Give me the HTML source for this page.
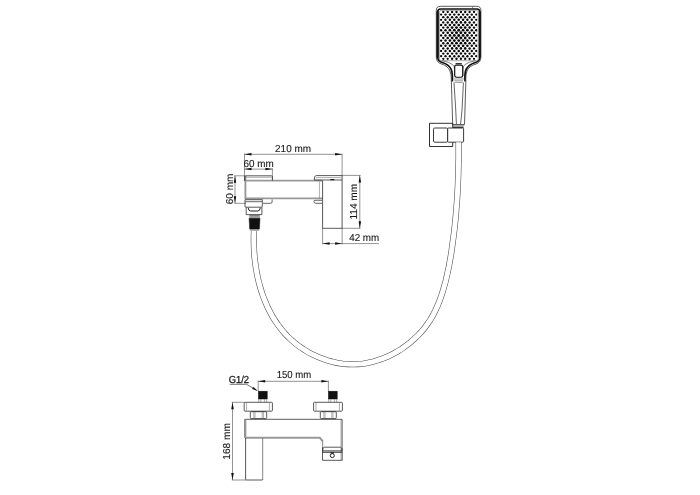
<!DOCTYPE html>
<html lang="en">
<head>
<meta charset="utf-8">
<title>Bath mixer with hand shower - dimensions</title>
<style>
html,body{margin:0;padding:0;background:#fff;}
body{width:700px;height:495px;overflow:hidden;}
svg{display:block;filter:grayscale(1);}
text{text-rendering:geometricPrecision;font-family:"Liberation Sans",Arial,Helvetica,sans-serif;fill:#1a1a1a;stroke:#1a1a1a;stroke-width:.12;}
.l{fill:none;stroke:#222;stroke-width:.75;stroke-linejoin:round;}
.t{fill:none;stroke:#333;stroke-width:.5;}
.g{fill:none;stroke:#777;stroke-width:.6;}
.g3{fill:none;stroke:#4a4a4a;stroke-width:.85;}
.g2{fill:none;stroke:#666;stroke-width:.8;}
.gg{fill:none;stroke:#999;stroke-width:1.9;}
.m2{fill:#fff;stroke:#222;stroke-width:.75;}
.m{fill:#fff;stroke:#111;stroke-width:1.15;}
.t2{fill:none;stroke:#333;stroke-width:.6;}
.h2{fill:none;stroke:#1a1a1a;stroke-width:.9;stroke-linejoin:miter;}
.h3{fill:none;stroke:#333;stroke-width:.8;stroke-linejoin:round;}
.g4{fill:none;stroke:#3a3a3a;stroke-width:1;}
.h{fill:none;stroke:#222;stroke-width:1;stroke-linejoin:round;}
.k{fill:none;stroke:#111;stroke-width:1.7;stroke-linejoin:round;}
.k4{fill:none;stroke:#111;stroke-width:2.2;}
.k2{fill:none;stroke:#111;stroke-width:1.1;}
.k3{fill:#111;stroke:#111;stroke-width:.5;}
text.b{stroke-width:.28;}
.d2{fill:none;stroke:#333;stroke-width:.7;}
.d{fill:none;stroke:#3a3a3a;stroke-width:.55;}
.a{fill:#111;stroke:none;}
</style>
</head>
<body>
<svg width="700" height="495" viewBox="0 0 700 495">
<defs>
<clipPath id="dc"><rect x="439.9" y="10.8" width="37.6" height="49.8" rx="1.5"/></clipPath>
</defs>
<rect width="700" height="495" fill="#fff"/>
<g id="head">
<path class="l" d="M451.4 80 Q451.3 74 450 71 Q448 66 441.5 64 Q436.3 62.5 436.3 57 V10.4 Q436.3 6.3 440.4 6.3 H476.8 Q480.9 6.3 480.9 10.4 V57 Q480.9 62.5 476 64 Q469 66 467 71 Q465.8 74 465.7 80"/>
<path class="k" d="M465 81.5 Q464.5 72.5 466.3 69 Q468.8 64.5 475.5 62.5 Q479.8 61.2 479.8 57 V12 Q479.8 9 477 9 H440.6 Q437.7 9 437.7 12 V57 Q437.7 61.2 442.2 62.5 Q448.8 64.5 451 69 Q452.8 72.5 452.3 81.5"/>
<path class="k4" d="M437.6 11.5 V57.5 M479.7 11.5 V57.5"/>
<path class="t" d="M472.5 6.5 V8.5"/>
<g fill="#0a0a0a" clip-path="url(#dc)"><circle cx="443.3" cy="12.0" r="1.15"/><circle cx="447.7" cy="12.0" r="1.16"/><circle cx="452.1" cy="12.0" r="1.18"/><circle cx="456.5" cy="12.0" r="1.19"/><circle cx="460.9" cy="12.0" r="1.19"/><circle cx="465.2" cy="12.0" r="1.18"/><circle cx="469.6" cy="12.0" r="1.17"/><circle cx="474.0" cy="12.0" r="1.15"/><circle cx="441.1" cy="14.6" r="1.15"/><circle cx="445.5" cy="14.6" r="1.17"/><circle cx="449.9" cy="14.6" r="1.19"/><circle cx="454.3" cy="14.6" r="1.21"/><circle cx="458.7" cy="14.6" r="1.22"/><circle cx="463.1" cy="14.6" r="1.21"/><circle cx="467.4" cy="14.6" r="1.19"/><circle cx="471.8" cy="14.6" r="1.17"/><circle cx="476.2" cy="14.6" r="1.15"/><circle cx="443.3" cy="17.2" r="1.17"/><circle cx="447.7" cy="17.2" r="1.19"/><circle cx="452.1" cy="17.2" r="1.22"/><circle cx="456.5" cy="17.2" r="1.24"/><circle cx="460.9" cy="17.2" r="1.25"/><circle cx="465.2" cy="17.2" r="1.22"/><circle cx="469.6" cy="17.2" r="1.19"/><circle cx="474.0" cy="17.2" r="1.17"/><circle cx="441.1" cy="19.8" r="1.16"/><circle cx="445.5" cy="19.8" r="1.19"/><circle cx="449.9" cy="19.8" r="1.23"/><circle cx="454.3" cy="19.8" r="1.27"/><circle cx="458.7" cy="19.8" r="1.29"/><circle cx="463.1" cy="19.8" r="1.27"/><circle cx="467.4" cy="19.8" r="1.23"/><circle cx="471.8" cy="19.8" r="1.19"/><circle cx="476.2" cy="19.8" r="1.16"/><circle cx="443.3" cy="22.4" r="1.19"/><circle cx="447.7" cy="22.4" r="1.23"/><circle cx="452.1" cy="22.4" r="1.29"/><circle cx="456.5" cy="22.4" r="1.32"/><circle cx="460.9" cy="22.4" r="1.32"/><circle cx="465.2" cy="22.4" r="1.29"/><circle cx="469.6" cy="22.4" r="1.23"/><circle cx="474.0" cy="22.4" r="1.19"/><circle cx="441.1" cy="25.0" r="1.18"/><circle cx="445.5" cy="25.0" r="1.22"/><circle cx="449.9" cy="25.0" r="1.29"/><circle cx="454.3" cy="25.0" r="1.35"/><circle cx="458.7" cy="25.0" r="1.37"/><circle cx="463.1" cy="25.0" r="1.35"/><circle cx="467.4" cy="25.0" r="1.29"/><circle cx="471.8" cy="25.0" r="1.22"/><circle cx="476.2" cy="25.0" r="1.18"/><circle cx="443.3" cy="27.6" r="1.21"/><circle cx="447.7" cy="27.6" r="1.27"/><circle cx="452.1" cy="27.6" r="1.35"/><circle cx="456.5" cy="27.6" r="1.41"/><circle cx="460.9" cy="27.6" r="1.41"/><circle cx="465.2" cy="27.6" r="1.35"/><circle cx="469.6" cy="27.6" r="1.28"/><circle cx="474.0" cy="27.6" r="1.21"/><circle cx="441.1" cy="30.2" r="1.19"/><circle cx="445.5" cy="30.2" r="1.25"/><circle cx="449.9" cy="30.2" r="1.34"/><circle cx="454.3" cy="30.2" r="1.42"/><circle cx="458.7" cy="30.2" r="1.45"/><circle cx="463.1" cy="30.2" r="1.42"/><circle cx="467.4" cy="30.2" r="1.34"/><circle cx="471.8" cy="30.2" r="1.25"/><circle cx="476.2" cy="30.2" r="1.19"/><circle cx="443.3" cy="32.8" r="1.22"/><circle cx="447.7" cy="32.8" r="1.30"/><circle cx="452.1" cy="32.8" r="1.40"/><circle cx="456.5" cy="32.8" r="1.46"/><circle cx="460.9" cy="32.8" r="1.46"/><circle cx="465.2" cy="32.8" r="1.40"/><circle cx="469.6" cy="32.8" r="1.30"/><circle cx="474.0" cy="32.8" r="1.22"/><circle cx="441.1" cy="35.4" r="1.19"/><circle cx="445.5" cy="35.4" r="1.26"/><circle cx="449.9" cy="35.4" r="1.35"/><circle cx="454.3" cy="35.4" r="1.44"/><circle cx="458.7" cy="35.4" r="1.48"/><circle cx="463.1" cy="35.4" r="1.44"/><circle cx="467.4" cy="35.4" r="1.36"/><circle cx="471.8" cy="35.4" r="1.26"/><circle cx="476.2" cy="35.4" r="1.20"/><circle cx="443.3" cy="38.0" r="1.22"/><circle cx="447.7" cy="38.0" r="1.30"/><circle cx="452.1" cy="38.0" r="1.40"/><circle cx="456.5" cy="38.0" r="1.46"/><circle cx="460.9" cy="38.0" r="1.46"/><circle cx="465.2" cy="38.0" r="1.40"/><circle cx="469.6" cy="38.0" r="1.30"/><circle cx="474.0" cy="38.0" r="1.22"/><circle cx="441.1" cy="40.6" r="1.19"/><circle cx="445.5" cy="40.6" r="1.25"/><circle cx="449.9" cy="40.6" r="1.34"/><circle cx="454.3" cy="40.6" r="1.42"/><circle cx="458.7" cy="40.6" r="1.45"/><circle cx="463.1" cy="40.6" r="1.42"/><circle cx="467.4" cy="40.6" r="1.34"/><circle cx="471.8" cy="40.6" r="1.25"/><circle cx="476.2" cy="40.6" r="1.19"/><circle cx="443.3" cy="43.2" r="1.21"/><circle cx="447.7" cy="43.2" r="1.27"/><circle cx="452.1" cy="43.2" r="1.35"/><circle cx="456.5" cy="43.2" r="1.41"/><circle cx="460.9" cy="43.2" r="1.41"/><circle cx="465.2" cy="43.2" r="1.35"/><circle cx="469.6" cy="43.2" r="1.28"/><circle cx="474.0" cy="43.2" r="1.21"/><circle cx="441.1" cy="45.8" r="1.18"/><circle cx="445.5" cy="45.8" r="1.22"/><circle cx="449.9" cy="45.8" r="1.29"/><circle cx="454.3" cy="45.8" r="1.35"/><circle cx="458.7" cy="45.8" r="1.37"/><circle cx="463.1" cy="45.8" r="1.35"/><circle cx="467.4" cy="45.8" r="1.29"/><circle cx="471.8" cy="45.8" r="1.22"/><circle cx="476.2" cy="45.8" r="1.18"/><circle cx="443.3" cy="48.4" r="1.19"/><circle cx="447.7" cy="48.4" r="1.23"/><circle cx="452.1" cy="48.4" r="1.29"/><circle cx="456.5" cy="48.4" r="1.32"/><circle cx="460.9" cy="48.4" r="1.32"/><circle cx="465.2" cy="48.4" r="1.29"/><circle cx="469.6" cy="48.4" r="1.23"/><circle cx="474.0" cy="48.4" r="1.19"/><circle cx="441.1" cy="51.0" r="1.16"/><circle cx="445.5" cy="51.0" r="1.19"/><circle cx="449.9" cy="51.0" r="1.23"/><circle cx="454.3" cy="51.0" r="1.27"/><circle cx="458.7" cy="51.0" r="1.29"/><circle cx="463.1" cy="51.0" r="1.27"/><circle cx="467.4" cy="51.0" r="1.23"/><circle cx="471.8" cy="51.0" r="1.19"/><circle cx="476.2" cy="51.0" r="1.16"/><circle cx="443.3" cy="53.6" r="1.17"/><circle cx="447.7" cy="53.6" r="1.19"/><circle cx="452.1" cy="53.6" r="1.22"/><circle cx="456.5" cy="53.6" r="1.24"/><circle cx="460.9" cy="53.6" r="1.25"/><circle cx="465.2" cy="53.6" r="1.22"/><circle cx="469.6" cy="53.6" r="1.19"/><circle cx="474.0" cy="53.6" r="1.17"/><circle cx="441.1" cy="56.2" r="1.15"/><circle cx="445.5" cy="56.2" r="1.17"/><circle cx="449.9" cy="56.2" r="1.19"/><circle cx="454.3" cy="56.2" r="1.21"/><circle cx="458.7" cy="56.2" r="1.22"/><circle cx="463.1" cy="56.2" r="1.21"/><circle cx="467.4" cy="56.2" r="1.19"/><circle cx="471.8" cy="56.2" r="1.17"/><circle cx="476.2" cy="56.2" r="1.15"/><circle cx="443.3" cy="58.8" r="1.15"/><circle cx="447.7" cy="58.8" r="1.16"/><circle cx="452.1" cy="58.8" r="1.18"/><circle cx="456.5" cy="58.8" r="1.19"/><circle cx="460.9" cy="58.8" r="1.19"/><circle cx="465.2" cy="58.8" r="1.18"/><circle cx="469.6" cy="58.8" r="1.17"/><circle cx="474.0" cy="58.8" r="1.15"/></g>
<rect class="g" x="439.5" y="10.5" width="38.6" height="50.2" rx="1.6"/>
<path class="t2" d="M441.8 60.6 Q449.5 62 452.6 64.6 Q454.4 66.2 454.5 69 V76 M475.6 60.6 Q468 62 464.9 64.6 Q463.1 66.2 463 69 V76"/>
<path class="k2" d="M455.6 63.7 H461.8"/>
<rect class="m" x="454.7" y="65.1" width="8.0" height="12.2" rx="1.7"/>
<path class="t" d="M453.5 79 H463.8 M454.3 80.8 H463 M454.6 82.4 H462.8"/>
<path class="h3" d="M451.3 80 L452.7 124.5 H464.5 L465.9 80"/>
<path class="g3" d="M454 82.5 L455.7 109 L456.4 124 M463.4 82.5 L462.1 109 L460.6 124"/>
</g>
<g id="holder">
<path class="h2" d="M452.7 128 V123.3 H429.5 V146.5 H452.7 V142.2"/>
<rect class="g4" x="433.5" y="128" width="14.1" height="14.2" rx="1.2"/>
<rect class="g4" x="447.6" y="128" width="16" height="14.2" rx="0.8"/>
<path class="t" d="M453 125.7 H464.2"/>
<path class="k2" d="M453 127.2 H463.6"/>
</g>
<g id="hose">
<path d="M458.6 142.3 L458.6 147.5 L458.6 152.7 L458.6 157.9 L458.5 163.1 L458.4 168.2 L458.3 173.4 L458.1 178.6 L457.9 183.8 L457.7 188.9 L457.4 194.1 L457.1 199.2 L456.7 204.4 L456.3 209.5 L455.9 214.7 L455.4 219.8 L454.9 225.0 L454.3 230.1 L453.7 235.2 L453.0 240.4 L452.3 245.5 L451.6 250.7 L450.8 255.8 L449.9 260.9 L449.0 266.0 L447.9 271.1 L446.8 276.2 L445.6 281.3 L444.2 286.3 L442.8 291.3 L441.2 296.2 L439.4 301.1 L437.5 305.9 L435.3 310.6 L433.0 315.2 L430.4 319.6 L427.5 323.9 L424.5 328.0 L421.2 331.9 L417.7 335.7 L413.9 339.2 L410.0 342.6 L405.9 345.8 L401.7 348.8 L397.3 351.5 L392.7 354.1 L388.0 356.4 L383.2 358.4 L378.2 360.2 L373.3 361.6 L368.2 362.8 L363.1 363.7 L357.9 364.1 L352.8 364.3 L347.6 364.1 L342.5 363.7 L337.3 362.9 L332.3 361.8 L327.3 360.4 L322.4 358.7 L317.5 356.8 L312.8 354.6 L308.2 352.2 L303.8 349.5 L299.5 346.6 L295.4 343.5 L291.5 340.1 L287.8 336.6 L284.3 332.9 L281.0 328.9 L277.9 324.8 L275.0 320.6 L272.3 316.2 L269.9 311.7 L267.6 307.1 L265.5 302.3 L263.6 297.5 L261.8 292.5 L260.3 287.5 L258.9 282.5 L257.7 277.4 L256.7 272.2 L255.8 267.0 L255.1 261.8 L254.5 256.6 L254.1 251.4 L253.9 246.3 L253.8 241.1 L253.8 236.0 L254.0 231.0" fill="none" stroke="#4a4a4a" stroke-width="6.1"/>
<path d="M458.6 142.3 L458.6 147.5 L458.6 152.7 L458.6 157.9 L458.5 163.1 L458.4 168.2 L458.3 173.4 L458.1 178.6 L457.9 183.8 L457.7 188.9 L457.4 194.1 L457.1 199.2 L456.7 204.4 L456.3 209.5 L455.9 214.7 L455.4 219.8 L454.9 225.0 L454.3 230.1 L453.7 235.2 L453.0 240.4 L452.3 245.5 L451.6 250.7 L450.8 255.8 L449.9 260.9 L449.0 266.0 L447.9 271.1 L446.8 276.2 L445.6 281.3 L444.2 286.3 L442.8 291.3 L441.2 296.2 L439.4 301.1 L437.5 305.9 L435.3 310.6 L433.0 315.2 L430.4 319.6 L427.5 323.9 L424.5 328.0 L421.2 331.9 L417.7 335.7 L413.9 339.2 L410.0 342.6 L405.9 345.8 L401.7 348.8 L397.3 351.5 L392.7 354.1 L388.0 356.4 L383.2 358.4 L378.2 360.2 L373.3 361.6 L368.2 362.8 L363.1 363.7 L357.9 364.1 L352.8 364.3 L347.6 364.1 L342.5 363.7 L337.3 362.9 L332.3 361.8 L327.3 360.4 L322.4 358.7 L317.5 356.8 L312.8 354.6 L308.2 352.2 L303.8 349.5 L299.5 346.6 L295.4 343.5 L291.5 340.1 L287.8 336.6 L284.3 332.9 L281.0 328.9 L277.9 324.8 L275.0 320.6 L272.3 316.2 L269.9 311.7 L267.6 307.1 L265.5 302.3 L263.6 297.5 L261.8 292.5 L260.3 287.5 L258.9 282.5 L257.7 277.4 L256.7 272.2 L255.8 267.0 L255.1 261.8 L254.5 256.6 L254.1 251.4 L253.9 246.3 L253.8 241.1 L253.8 236.0 L254.0 231.0" fill="none" stroke="#fff" stroke-width="5.0"/>
</g>
<g id="side">
<rect x="244.8" y="181.2" width="78" height="17.4" fill="#fff" stroke="none"/>
<path class="gg" d="M245 180.6 H322.6 M262 198.4 H322.6"/>
<path class="gg" d="M245 198.4 H262.5"/>
<path class="gg" d="M245.4 176 V199"/>
<path class="l" d="M244.8 181 V176.6 Q244.8 175.8 245.6 175.8 H271.6 Q272.4 175.8 272.4 176.6 V180.5"/>
<path class="g" d="M246 177.3 H271.5"/>
<path class="g3" d="M272.1 199.4 V202 Q272.1 203.3 270.6 203.3 H263"/>
<path class="l" d="M314.4 180 Q314.1 175.6 316.4 175.6 H342 M314.4 180 H342"/>
<path class="g" d="M316 177.6 H341.5"/>
<path class="k2" d="M330.3 179.6 H334.3"/>
<path class="g3" d="M322 200.3 H315 Q313.8 200.3 314 201.8 Q314.2 203.3 315.5 203.3 H322"/>
<path class="l" d="M322.6 181 V228.3 H342.1 V175.6"/>
<path class="g" d="M319.4 181.5 V198.5"/>
<path class="m2" d="M245 199.7 H262.3 V206.3 Q262.3 207.2 261.4 207.2 H245.9 Q245 207.2 245 206.3 Z"/>
<path class="g3" d="M245.2 201.7 H262.2"/>
<path class="l" d="M246.2 207.2 V214.6 H261.9 V207.2"/>
<path class="h" d="M248.2 207.8 Q248.5 211 250.6 211 H257.9 Q260 211 260.3 207.8"/>
<path class="g3" d="M249.4 215.7 H259.8 M249.3 217 H259.9"/>
<path class="k3" d="M249.1 218.2 H260 L259.4 229 H249.7 Z"/>
<path class="g3" d="M249.8 230 H259.3"/>
</g>
<g id="dim1">
<path class="d" d="M244.5 154.3 H342.1 M244.5 153.5 V181 M342.1 153.5 V176"/>
<polygon class="a" points="244.5,154.3 251.5,153.1 251.5,155.6"/>
<polygon class="a" points="342.1,154.3 335.1,153.1 335.1,155.6"/>
<path class="d" d="M244.5 169.1 H272.4 M272.4 168.3 V180"/>
<polygon class="a" points="244.5,169.1 251.5,167.8 251.5,170.3"/>
<polygon class="a" points="272.4,169.1 265.4,167.8 265.4,170.3"/>
<path class="d" d="M235.0 175.8 V203.3 M234.3 175.8 H245 M234.3 203.3 H246"/>
<polygon class="a" points="235.0,175.8 233.8,182.8 236.2,182.8"/>
<polygon class="a" points="235.0,203.3 233.8,196.3 236.2,196.3"/>
<path class="d" d="M359.8 175.4 V228.3 M342 175.4 H360.6 M342 228.3 H360.6"/>
<polygon class="a" points="359.8,175.4 358.6,182.4 361.1,182.4"/>
<polygon class="a" points="359.8,228.3 358.6,221.3 361.1,221.3"/>
<path class="d" d="M322.6 243.6 H378.9 M322.6 228 V244.3 M342.1 228 V244.3"/>
<polygon class="a" points="322.6,243.6 329.6,242.3 329.6,244.8"/>
<polygon class="a" points="342.1,243.6 335.1,242.3 335.1,244.8"/>
<text x="275.1" y="151.9" textLength="35.9" lengthAdjust="spacingAndGlyphs" font-size="10.1">210 mm</text>
<text x="243.6" y="166.7" textLength="30.2" lengthAdjust="spacingAndGlyphs" font-size="10.1">60 mm</text>
<text transform="translate(232.5 204.2) rotate(-90)" textLength="30.5" lengthAdjust="spacingAndGlyphs" font-size="10.1">60 mm</text>
<text transform="translate(357.4 219.6) rotate(-90)" textLength="35.8" lengthAdjust="spacingAndGlyphs" font-size="10.1">114 mm</text>
<text x="349.2" y="240.7" textLength="30.0" lengthAdjust="spacingAndGlyphs" font-size="10.1">42 mm</text>
</g>
<g id="front">
<rect class="k3" x="258.4" y="391.2" width="8.8" height="7.8" />
<path class="g" d="M258.8 399 V402.3 M260.8 399 V402.3 M264.4 399 V402.3 M266.6 399 V402.3"/>
<rect class="k3" x="328.4" y="391.2" width="8.8" height="7.8" />
<path class="g" d="M328.8 399 V402.3 M330.8 399 V402.3 M334.4 399 V402.3 M336.6 399 V402.3"/>
<rect class="l" x="244.2" y="402.3" width="28.2" height="8.9" rx="0.8"/>
<path class="g" d="M246.6 402.8 V410.8 M269.4 402.8 V410.8"/>
<rect class="l" x="313.6" y="402.3" width="28.8" height="8.9" rx="0.8"/>
<path class="g" d="M316.0 402.8 V410.8 M339.4 402.8 V410.8"/>
<rect class="l" x="250.3" y="411.7" width="16.4" height="6.9" rx="1"/>
<path class="g" d="M253.8 412 V418.3 M255.0 412 V418.3 M262.2 412 V418.3 M263.4 412 V418.3"/>
<rect class="l" x="320.3" y="411.7" width="16.0" height="6.9" rx="1"/>
<path class="g" d="M323.8 412 V418.3 M325.0 412 V418.3 M331.8 412 V418.3 M333.0 412 V418.3"/>
<path class="l" d="M244.8 419.3 H342.1 V447 M244.8 419.3 V437.8"/>
<path class="gg" d="M245.4 419.6 V437.6 M245 437.8 H319.8 L322.6 441"/>
<path class="g" d="M341 419.8 V460"/>
<path class="g2" d="M322.7 440.5 V447.5"/>
<path class="l" d="M322.5 447.2 V460.3 H342.2 V447.2"/>
<path class="l" d="M322.8 450.8 Q322.4 447.2 324.4 447.2 H340.4 Q342.4 447.2 342 450.8 Z"/>
<path class="h" d="M322.6 452.2 H342.2"/>
<circle class="h" cx="332.3" cy="455.6" r="2.0"/>
<path class="k2" d="M330.4 452.9 H334"/>
<path class="l" d="M245.6 438 V479.2 Q245.6 480 246.4 480 H262 Q262.8 480 262.8 479.2"/>
<path class="g2" d="M262.7 438 V479.5"/>
</g>
<g id="dim2">
<path class="d" d="M258.2 381.3 H328.4 M258.2 380.6 V391 M328.4 380.6 V391"/>
<polygon class="a" points="258.2,381.3 265.2,380.1 265.2,382.6"/>
<polygon class="a" points="328.4,381.3 321.4,380.1 321.4,382.6"/>
<path class="d2" d="M229.7 384.3 H246.6 L256.5 390.2"/>
<polygon class="a" points="257.8,391 252.1,389.0 253.3,386.9"/>
<path class="d" d="M232.5 402.3 V480 M231.8 402.3 H244.5 M231.8 480 H246"/>
<polygon class="a" points="232.5,402.3 231.2,409.3 233.8,409.3"/>
<polygon class="a" points="232.5,480.0 231.2,473.0 233.8,473.0"/>
<text x="276.7" y="378.3" textLength="34.6" lengthAdjust="spacingAndGlyphs" font-size="10.1">150 mm</text>
<text class="b" x="228.7" y="383.0" textLength="20.4" lengthAdjust="spacingAndGlyphs" font-size="10.1">G1/2</text>
<text transform="translate(230.0 459.7) rotate(-90)" textLength="36.6" lengthAdjust="spacingAndGlyphs" font-size="10.1">168 mm</text>
</g>
</svg>
</body>
</html>
